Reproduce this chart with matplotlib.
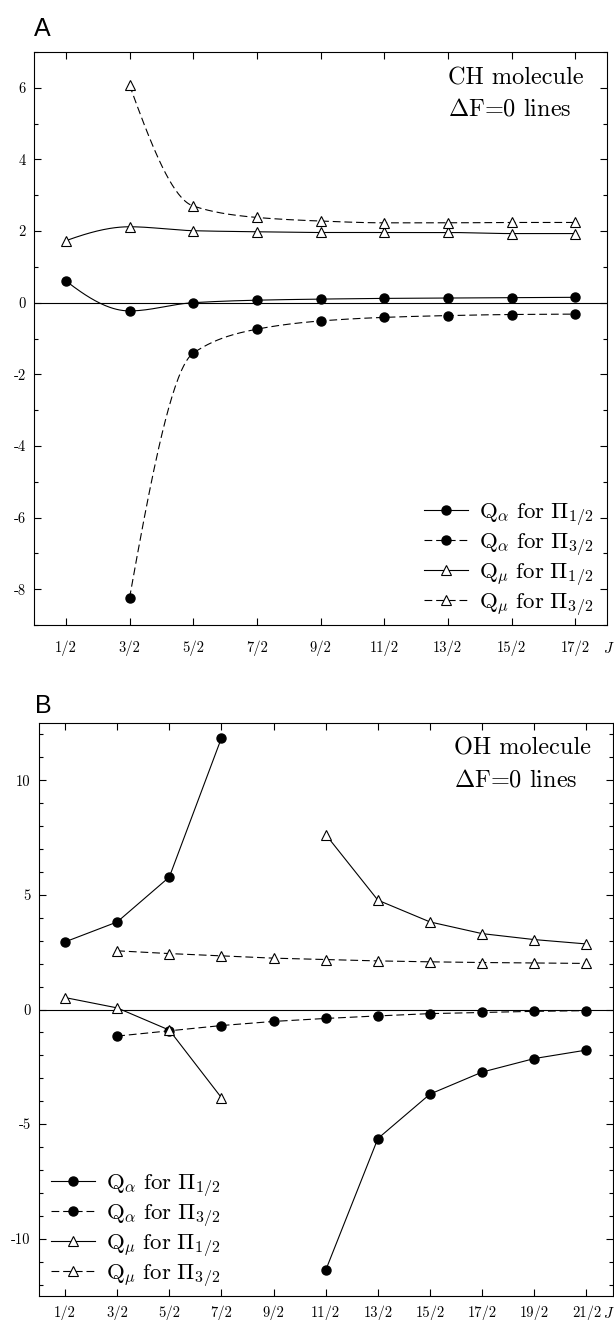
import numpy as np
import matplotlib
matplotlib.use("Agg")
import matplotlib.pyplot as plt
from matplotlib.lines import Line2D

plt.rcParams['mathtext.fontset'] = 'cm'
plt.rcParams['font.family'] = 'cmr10'
plt.rcParams['axes.unicode_minus'] = False

nan = np.nan

# ---- panel A : CH molecule ----
j_ch = [0.5, 1.5, 2.5, 3.5, 4.5, 5.5, 6.5, 7.5, 8.5]
j_ch_labels = ['1/2', '3/2', '5/2', '7/2', '9/2', '11/2', '13/2', '15/2', '17/2']
ch_qa_p12 = [0.61, -0.23, 0.00, 0.07, 0.10, 0.12, 0.13, 0.14, 0.15]
ch_qa_p32 = [nan, -8.25, -1.41, -0.74, -0.51, -0.41, -0.36, -0.33, -0.32]
ch_qm_p12 = [1.73, 2.12, 2.01, 1.98, 1.96, 1.96, 1.96, 1.93, 1.93]
ch_qm_p32 = [nan, 6.08, 2.70, 2.38, 2.28, 2.23, 2.23, 2.24, 2.24]
ch_yticks = [-8, -6, -4, -2, 0, 2, 4, 6]

# ---- panel B : OH molecule ----
j_oh = [0.5, 1.5, 2.5, 3.5, 4.5, 5.5, 6.5, 7.5, 8.5, 9.5, 10.5]
j_oh_labels = ['1/2', '3/2', '5/2', '7/2', '9/2', '11/2', '13/2', '15/2', '17/2',
               '19/2', '21/2']
oh_qa_p12 = [2.95, 3.82, 5.78, 11.85, nan, -11.37, -5.63, -3.69, -2.73, -2.14, -1.77]
oh_qa_p32 = [nan, -1.16, -0.93, -0.70, -0.52, -0.39, -0.28, -0.18, -0.13, -0.08, -0.05]
oh_qm_p12 = [0.52, 0.07, -0.90, -3.85, nan, 7.63, 4.77, 3.82, 3.31, 3.05, 2.86]
oh_qm_p32 = [nan, 2.56, 2.44, 2.34, 2.24, 2.18, 2.12, 2.08, 2.05, 2.03, 2.01]
oh_yticks = [-10, -5, 0, 5, 10]

labels = [r'$\mathrm{Q}_\alpha\ \mathrm{for}\ \Pi_{1/2}$',
          r'$\mathrm{Q}_\alpha\ \mathrm{for}\ \Pi_{3/2}$',
          r'$\mathrm{Q}_\mu\ \mathrm{for}\ \Pi_{1/2}$',
          r'$\mathrm{Q}_\mu\ \mathrm{for}\ \Pi_{3/2}$']

LW = 0.8
DASH = (7, 3.5)
circ = dict(marker='o', markersize=6.5, markerfacecolor='k', markeredgecolor='k')
tri = dict(marker='^', markersize=6.5, markerfacecolor='white',
           markeredgecolor='k', markeredgewidth=0.8)


def smooth_curve(x, y, n=40):
    # monotone cubic through the points, only for drawing the CH curves
    x = np.asarray(x, float)
    y = np.asarray(y, float)
    ok = ~np.isnan(y)
    x, y = x[ok], y[ok]
    h = np.diff(x)
    d = np.diff(y) / h
    k = len(x)
    m = np.zeros(k)
    for i in range(1, k - 1):
        if d[i - 1] * d[i] > 0:
            w1 = 2 * h[i] + h[i - 1]
            w2 = h[i] + 2 * h[i - 1]
            m[i] = (w1 + w2) / (w1 / d[i - 1] + w2 / d[i])

    def end(h0, h1, d0, d1):
        s = ((2 * h0 + h1) * d0 - h0 * d1) / (h0 + h1)
        if np.sign(s) != np.sign(d0):
            s = 0.0
        elif np.sign(d0) != np.sign(d1) and abs(s) > abs(3 * d0):
            s = 3 * d0
        return s
    m[0] = end(h[0], h[1], d[0], d[1])
    m[-1] = end(h[-1], h[-2], d[-1], d[-2])

    xs, ys = [], []
    for i in range(k - 1):
        t = np.linspace(0, 1, n)
        h00 = 2 * t**3 - 3 * t**2 + 1
        h10 = t**3 - 2 * t**2 + t
        h01 = -2 * t**3 + 3 * t**2
        h11 = t**3 - t**2
        xs.append(x[i] + t * h[i])
        ys.append(h00 * y[i] + h10 * h[i] * m[i] + h01 * y[i + 1] + h11 * h[i] * m[i + 1])
    return np.concatenate(xs), np.concatenate(ys)


def style_axes(ax, j, jlabels, xlim, ylim, yticks, yminor, xpad):
    ax.set_xlim(*xlim)
    ax.set_ylim(*ylim)
    ax.set_xticks(j)
    ax.set_xticklabels(jlabels)
    ax.set_yticks(yticks)
    ax.set_yticklabels([str(v) for v in yticks])
    ax.set_yticks(yminor, minor=True)
    ax.tick_params(which='both', direction='in', top=True, right=True, width=0.8,
                   labelsize=10.5)
    ax.tick_params(which='major', length=5)
    ax.tick_params(which='minor', length=3)
    ax.tick_params(axis='x', pad=xpad)
    ax.tick_params(axis='y', pad=6)
    for s in ax.spines.values():
        s.set_linewidth(0.8)
    ax.axhline(0, color='k', lw=LW, zorder=1)


def legend_handles():
    return [Line2D([], [], color='k', lw=LW, **circ),
            Line2D([], [], color='k', lw=LW, dashes=DASH, **circ),
            Line2D([], [], color='k', lw=LW, **tri),
            Line2D([], [], color='k', lw=LW, dashes=DASH, **tri)]


fig = plt.figure(figsize=(6.14, 13.2), dpi=100)

# ---------- A ----------
axA = fig.add_axes([34 / 614, 1 - 625 / 1320, 573 / 614, 573 / 1320])
series = [(ch_qa_p12, None, circ), (ch_qa_p32, DASH, circ),
          (ch_qm_p12, None, tri), (ch_qm_p32, DASH, tri)]
for n, (vals, dash, mk) in enumerate(series):
    xs, ys = smooth_curve(j_ch, vals)
    line, = axA.plot(xs, ys, color='k', lw=LW, zorder=2)
    if dash:
        line.set_dashes(dash)
    axA.plot(j_ch, vals, linestyle='none', zorder=3 + n // 2, **mk)

style_axes(axA, j_ch, j_ch_labels, (0, 9), (-9, 7), ch_yticks,
           np.arange(-9, 8, 1), 11)
axA.text(0.7225, 0.943, 'CH molecule', transform=axA.transAxes, fontsize=17.5,
         ha='left', va='baseline')
axA.text(0.7225, 0.890, r'$\Delta$F=0 lines', transform=axA.transAxes,
         fontsize=17.5, ha='left', va='baseline')
axA.legend(legend_handles(), labels, loc='lower right', frameon=False,
           bbox_to_anchor=(0.977, 0.012), borderaxespad=0, borderpad=0,
           handlelength=1.9, handletextpad=0.5, labelspacing=0.15,
           prop={'family': 'cmr10', 'size': 16.5})
fig.text(34 / 614, 1 - 36 / 1320, 'A', family='Liberation Sans', fontsize=18,
         ha='left', va='baseline')
fig.text(603 / 614, 1 - 648 / 1320, r'$J$', fontsize=11, ha='left', va='center')

# ---------- B ----------
axB = fig.add_axes([39 / 614, 1 - 1296 / 1320, 573.5 / 614, 573 / 1320])
axB.plot(j_oh, oh_qa_p12, color='k', lw=LW, zorder=3, **circ)
axB.plot(j_oh, oh_qa_p32, color='k', lw=LW, dashes=DASH, zorder=3, **circ)
axB.plot(j_oh, oh_qm_p12, color='k', lw=LW, zorder=4, **tri)
axB.plot(j_oh, oh_qm_p32, color='k', lw=LW, dashes=DASH, zorder=4, **tri)

style_axes(axB, j_oh, j_oh_labels, (0, 11), (-12.5, 12.5), oh_yticks,
           np.arange(-12, 13, 1), 7)
axB.text(0.724, 0.945, 'OH molecule', transform=axB.transAxes, fontsize=17.5,
         ha='left', va='baseline')
axB.text(0.724, 0.890, r'$\Delta$F=0 lines', transform=axB.transAxes,
         fontsize=17.5, ha='left', va='baseline')
axB.legend(legend_handles(), labels, loc='lower left', frameon=False,
           bbox_to_anchor=(0.021, 0.012), borderaxespad=0, borderpad=0,
           handlelength=1.9, handletextpad=0.5, labelspacing=0.15,
           prop={'family': 'cmr10', 'size': 16.5})
fig.text(35 / 614, 1 - 713 / 1320, 'B', family='Liberation Sans', fontsize=18,
         ha='left', va='baseline')
fig.text(603 / 614, 1 - 1313 / 1320, r'$J$', fontsize=11, ha='left', va='center')

fig.savefig('out.png', dpi=100)
